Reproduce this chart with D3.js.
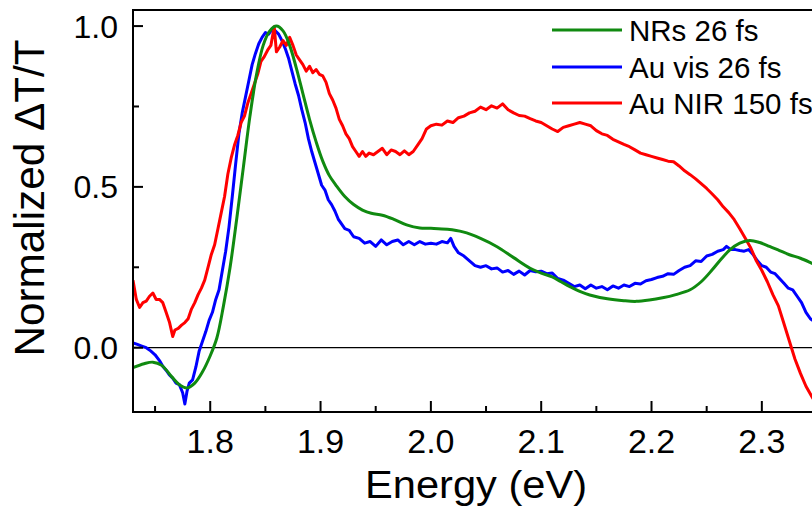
<!DOCTYPE html>
<html><head><meta charset="utf-8">
<script src="https://cdn.jsdelivr.net/npm/d3@7/dist/d3.min.js"></script>
<style>body{margin:0;background:#fff}svg{display:block}text{font-family:"Liberation Sans",Arial,sans-serif;fill:#000}</style>
</head><body><svg id="c" width="812" height="508"></svg>
<script>
const xTicks = [1.8, 1.9, 2.0, 2.1, 2.2, 2.3];
const xMinorTicks = [1.75, 1.85, 1.95, 2.05, 2.15, 2.25];
const yTicks = [0.0, 0.5, 1.0];
const yMinorTicks = [0.25, 0.75];
const seriesNames = ["NRs 26 fs", "Au vis 26 fs", "Au NIR 150 fs"];
const seriesColors = ["#108a10", "#0000ff", "#ff0000"];

const greenX = [1.730,1.740,1.748,1.756,1.765,1.772,1.779,1.786,1.793,1.800,1.806,1.812,1.818,1.824,1.830,1.836,1.842,1.848,1.854,1.860,1.866,1.872,1.878,1.884,1.890,1.896,1.902,1.908,1.914,1.922,1.930,1.938,1.946,1.956,1.966,1.978,1.990,2.000,2.015,2.029,2.045,2.060,2.075,2.090,2.100,2.110,2.118,2.126,2.135,2.144,2.160,2.175,2.186,2.198,2.210,2.222,2.235,2.245,2.255,2.263,2.271,2.280,2.289,2.298,2.307,2.316,2.325,2.335,2.345,2.350];
const greenY = [-0.062,-0.050,-0.045,-0.055,-0.090,-0.115,-0.125,-0.110,-0.075,-0.025,0.030,0.130,0.250,0.400,0.560,0.720,0.850,0.940,0.985,1.000,0.985,0.940,0.870,0.790,0.710,0.640,0.580,0.535,0.505,0.470,0.445,0.428,0.418,0.412,0.400,0.382,0.372,0.371,0.368,0.360,0.340,0.314,0.280,0.247,0.232,0.220,0.205,0.190,0.175,0.164,0.152,0.146,0.144,0.148,0.155,0.165,0.180,0.205,0.242,0.275,0.304,0.325,0.333,0.327,0.315,0.302,0.289,0.278,0.263,0.255];

const blueX = [1.730,1.734,1.738,1.742,1.746,1.750,1.754,1.757,1.760,1.763,1.766,1.769,1.772,1.775,1.777,1.779,1.781,1.784,1.787,1.790,1.793,1.796,1.799,1.802,1.805,1.808,1.811,1.814,1.817,1.820,1.823,1.826,1.829,1.832,1.835,1.838,1.841,1.844,1.847,1.850,1.853,1.856,1.859,1.862,1.865,1.868,1.871,1.874,1.877,1.880,1.883,1.886,1.889,1.892,1.895,1.898,1.901,1.904,1.907,1.910,1.913,1.916,1.919,1.922,1.926,1.930,1.935,1.940,1.945,1.950,1.955,1.960,1.965,1.970,1.975,1.980,1.985,1.990,1.995,2.000,2.005,2.010,2.015,2.018,2.021,2.025,2.030,2.035,2.040,2.045,2.050,2.055,2.060,2.065,2.070,2.075,2.080,2.085,2.090,2.095,2.100,2.105,2.110,2.115,2.120,2.125,2.130,2.135,2.140,2.145,2.150,2.155,2.160,2.165,2.170,2.175,2.180,2.185,2.190,2.195,2.200,2.205,2.210,2.215,2.220,2.225,2.230,2.235,2.240,2.245,2.250,2.255,2.260,2.265,2.268,2.272,2.276,2.280,2.284,2.288,2.292,2.296,2.300,2.304,2.308,2.312,2.316,2.320,2.324,2.328,2.332,2.336,2.340,2.344,2.348];
const blueY = [0.015,0.010,0.005,0.000,-0.010,-0.022,-0.040,-0.058,-0.070,-0.085,-0.095,-0.110,-0.115,-0.140,-0.175,-0.135,-0.110,-0.100,-0.060,-0.010,0.020,0.050,0.085,0.110,0.150,0.180,0.240,0.300,0.375,0.470,0.570,0.665,0.730,0.780,0.830,0.880,0.915,0.945,0.965,0.980,0.975,0.990,0.985,0.975,0.955,0.930,0.900,0.860,0.820,0.785,0.740,0.700,0.650,0.610,0.575,0.540,0.505,0.490,0.460,0.445,0.425,0.400,0.385,0.370,0.365,0.345,0.340,0.325,0.330,0.315,0.335,0.320,0.330,0.335,0.320,0.330,0.320,0.330,0.322,0.325,0.322,0.330,0.326,0.340,0.315,0.295,0.285,0.270,0.255,0.250,0.255,0.245,0.248,0.235,0.240,0.228,0.238,0.226,0.240,0.236,0.238,0.230,0.232,0.215,0.210,0.200,0.190,0.195,0.183,0.195,0.185,0.190,0.180,0.192,0.185,0.195,0.190,0.200,0.198,0.208,0.212,0.218,0.222,0.230,0.228,0.240,0.250,0.255,0.270,0.268,0.285,0.290,0.300,0.305,0.315,0.305,0.305,0.302,0.300,0.305,0.290,0.270,0.255,0.250,0.235,0.230,0.215,0.200,0.185,0.180,0.160,0.140,0.110,0.090,0.080];

const redX = [1.730,1.733,1.736,1.739,1.742,1.745,1.748,1.751,1.754,1.757,1.760,1.763,1.766,1.768,1.771,1.774,1.777,1.780,1.783,1.786,1.789,1.792,1.795,1.798,1.801,1.804,1.807,1.810,1.813,1.816,1.819,1.822,1.825,1.828,1.831,1.834,1.837,1.840,1.843,1.846,1.849,1.852,1.855,1.858,1.860,1.863,1.866,1.869,1.872,1.875,1.878,1.881,1.884,1.887,1.890,1.893,1.896,1.899,1.902,1.905,1.908,1.911,1.914,1.917,1.920,1.923,1.926,1.929,1.932,1.935,1.938,1.941,1.944,1.948,1.952,1.956,1.960,1.964,1.968,1.972,1.976,1.980,1.984,1.988,1.992,1.996,2.000,2.005,2.010,2.015,2.020,2.025,2.030,2.035,2.040,2.045,2.050,2.055,2.060,2.065,2.070,2.075,2.080,2.085,2.090,2.095,2.100,2.105,2.110,2.115,2.120,2.125,2.130,2.135,2.140,2.145,2.150,2.155,2.160,2.165,2.170,2.175,2.180,2.185,2.190,2.195,2.200,2.205,2.210,2.215,2.220,2.225,2.230,2.235,2.240,2.245,2.250,2.255,2.260,2.265,2.270,2.275,2.280,2.285,2.290,2.295,2.300,2.305,2.310,2.315,2.320,2.325,2.330,2.335,2.340,2.345,2.350];
const redY = [0.210,0.150,0.125,0.140,0.145,0.160,0.170,0.150,0.150,0.140,0.110,0.080,0.035,0.055,0.060,0.070,0.078,0.090,0.120,0.140,0.165,0.185,0.210,0.250,0.290,0.320,0.370,0.420,0.470,0.540,0.590,0.630,0.660,0.700,0.720,0.760,0.790,0.820,0.850,0.890,0.905,0.925,0.940,0.998,0.920,0.935,0.955,0.940,0.965,0.940,0.910,0.895,0.880,0.860,0.875,0.855,0.865,0.850,0.845,0.825,0.790,0.770,0.745,0.710,0.690,0.665,0.650,0.625,0.610,0.595,0.610,0.595,0.605,0.600,0.610,0.620,0.600,0.615,0.610,0.600,0.612,0.600,0.610,0.630,0.650,0.680,0.690,0.695,0.692,0.705,0.700,0.715,0.720,0.730,0.735,0.748,0.740,0.752,0.745,0.758,0.740,0.730,0.722,0.720,0.712,0.705,0.700,0.690,0.680,0.672,0.685,0.690,0.695,0.700,0.695,0.690,0.675,0.665,0.660,0.648,0.640,0.632,0.625,0.615,0.605,0.600,0.595,0.590,0.585,0.580,0.578,0.565,0.550,0.538,0.525,0.510,0.495,0.478,0.460,0.438,0.420,0.398,0.370,0.340,0.310,0.270,0.240,0.205,0.165,0.130,0.075,0.020,-0.035,-0.080,-0.120,-0.150,-0.180];

const L = 133, R = 817, T = 10, B = 412;
const svg = d3.select("#c");
const x = d3.scaleLinear().domain([1.73, 2.35]).range([L, R]);
const y = d3.scaleLinear().domain([-0.2, 1.05]).range([B, T]);

svg.append("defs").append("clipPath").attr("id","clip")
  .append("rect").attr("x",L).attr("y",T).attr("width",R-L).attr("height",B-T);

// zero line
svg.append("line").attr("x1",L).attr("x2",R).attr("y1",y(0)).attr("y2",y(0))
  .attr("stroke","#000").attr("stroke-width",1.3);

const series = [
  {name: seriesNames[0], color: seriesColors[0], xs: greenX, ys: greenY, curve: d3.curveCatmullRom},
  {name: seriesNames[1], color: seriesColors[1], xs: blueX, ys: blueY, curve: d3.curveLinear},
  {name: seriesNames[2], color: seriesColors[2], xs: redX, ys: redY, curve: d3.curveLinear}
];
const g = svg.append("g").attr("clip-path","url(#clip)");
[series[1], series[2], series[0]].forEach(s => {
  const line = d3.line().x((d,i)=>x(s.xs[i])).y((d,i)=>y(s.ys[i])).curve(s.curve);
  g.append("path").attr("d", line(s.xs)).attr("fill","none")
   .attr("stroke", s.color).attr("stroke-width", 3).attr("stroke-linejoin","round");
});

// axes frame
const frame = svg.append("g").attr("stroke","#000").attr("stroke-width",2).attr("fill","none");
frame.append("path").attr("d",`M${R},${T}H${L}V${B}H${R}`).attr("stroke-linecap","square");

// x ticks (inward)
xTicks.forEach(v=>{
  svg.append("line").attr("x1",x(v)).attr("x2",x(v)).attr("y1",B).attr("y2",B-11).attr("stroke","#000").attr("stroke-width",2);
  svg.append("text").attr("x",x(v)).attr("y",453).attr("text-anchor","middle").attr("font-size","34px").text(d3.format(".1f")(v));
});
xMinorTicks.forEach(v=>{
  svg.append("line").attr("x1",x(v)).attr("x2",x(v)).attr("y1",B).attr("y2",B-6).attr("stroke","#000").attr("stroke-width",2);
});
yTicks.forEach(v=>{
  svg.append("line").attr("x1",L).attr("x2",L+10).attr("y1",y(v)).attr("y2",y(v)).attr("stroke","#000").attr("stroke-width",2);
  svg.append("text").attr("x",118).attr("y",y(v)+11.5).attr("text-anchor","end").attr("font-size","32px").text(d3.format(".1f")(v));
});
yMinorTicks.forEach(v=>{
  svg.append("line").attr("x1",L).attr("x2",L+6).attr("y1",y(v)).attr("y2",y(v)).attr("stroke","#000").attr("stroke-width",2);
});

// titles
svg.append("text").attr("x",476).attr("y",498).attr("text-anchor","middle").attr("font-size","38px")
  .attr("textLength",222).attr("lengthAdjust","spacingAndGlyphs").text("Energy (eV)");
svg.append("text").attr("transform","translate(44,198) rotate(-90)").attr("text-anchor","middle").attr("font-size","42px")
  .attr("textLength",317).attr("lengthAdjust","spacingAndGlyphs").text("Normalized \u0394T/T");

// legend
const legY = [30, 67, 103];
series.forEach((s,i)=>{
  svg.append("line").attr("x1",552).attr("x2",622).attr("y1",legY[i]).attr("y2",legY[i])
    .attr("stroke",s.color).attr("stroke-width",3);
  svg.append("text").attr("x",629).attr("y",legY[i]+10.5).attr("font-size","29.5px").text(s.name);
});
</script></body></html>
